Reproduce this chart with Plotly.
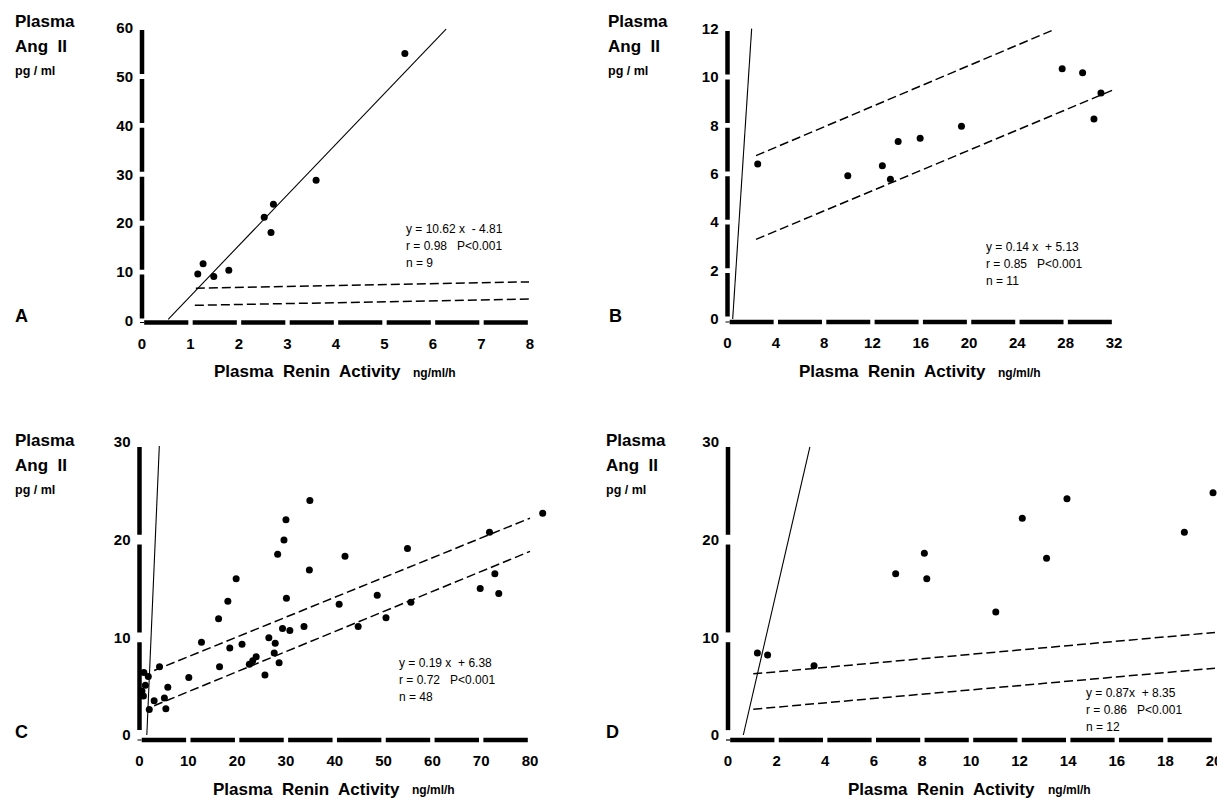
import plotly.graph_objects as go

W, H = 1225, 802          # browser window
OFF = 8                   # default page (body) margin of the html page
FW, FH = W - OFF, H - OFF # figure size so that it ends at the window edge

# ---------------- data ----------------
A_x = [1.15, 1.26, 1.48, 1.79, 2.52, 2.66, 2.71, 3.59, 5.42]
A_y = [9.6, 11.7, 9.1, 10.4, 21.2, 18.1, 23.9, 28.8, 54.7]
A_fit_x = [0.54, 6.27]
A_fit_y = [0.35, 59.7]
A_up_x = [1.11, 7.98]
A_up_y = [6.7, 8.0]
A_lo_x = [1.09, 7.98]
A_lo_y = [3.2, 4.5]
A_xticks = [0, 1, 2, 3, 4, 5, 6, 7, 8]
A_yticks = [0, 10, 20, 30, 40, 50, 60]
A_text = ["y = 10.62 x  - 4.81", "r = 0.98   P<0.001", "n = 9"]

B_x = [2.50, 9.96, 12.82, 13.49, 14.13, 15.95, 19.37, 27.71, 29.40, 30.92, 30.34]
B_y = [6.40, 5.92, 6.33, 5.77, 7.33, 7.47, 7.96, 10.34, 10.18, 9.34, 8.26]
B_fit_x = [0.43, 2.0]
B_fit_y = [0.0, 12.0]
B_up_x = [2.36, 27.13]
B_up_y = [6.75, 11.98]
B_lo_x = [2.36, 31.9]
B_lo_y = [3.29, 9.46]
B_xticks = [0, 4, 8, 12, 16, 20, 24, 28, 32]
B_yticks = [0, 2, 4, 6, 8, 10, 12]
B_text = ["y = 0.14 x  + 5.13", "r = 0.85   P<0.001", "n = 11"]

C_x = [34.9, 30.0, 29.6, 28.3, 19.8, 18.1, 16.2, 34.8, 42.1, 54.9, 30.1, 40.9,
       48.7, 55.6, 44.8, 50.5, 33.7, 29.3, 30.8, 26.5, 27.8, 21.0, 18.5, 12.7,
       27.6, 28.6, 25.7, 23.9, 22.5, 23.2, 16.4, 10.1, 4.1, 5.8, 5.1, 5.4,
       3.0, 2.0, 1.8, 0.9, 1.2, 0.5, 0.8, 82.6, 71.7, 72.8, 69.8, 73.6]
C_y = [24.0, 22.05, 19.97, 18.5, 16.0, 13.7, 11.9, 16.9, 18.3, 19.1, 14.0, 13.4,
       14.3, 13.6, 11.1, 12.0, 11.1, 10.9, 10.7, 9.95, 9.4, 9.3, 8.9, 9.5,
       8.4, 7.4, 6.15, 8.0, 7.25, 7.6, 7.0, 5.9, 7.0, 4.9, 3.8, 2.7,
       3.5, 2.6, 6.0, 6.4, 5.1, 4.5, 4.0, 22.7, 20.75, 16.5, 15.0, 14.5]
C_fit_x = [1.5, 4.06]
C_fit_y = [0.0, 29.6]
C_up_x = [3.0, 80.0]
C_up_y = [6.6, 22.2]
C_lo_x = [3.0, 80.0]
C_lo_y = [3.0, 18.8]
C_xticks = [0, 10, 20, 30, 40, 50, 60, 70, 80]
C_yticks = [0, 10, 20, 30]
C_text = ["y = 0.19 x  + 6.38", "r = 0.72   P<0.001", "n = 48"]

D_x = [1.21, 1.63, 3.54, 6.9, 8.08, 8.18, 11.02, 12.11, 13.95, 13.11, 18.78, 19.96]
D_y = [8.4, 8.2, 7.1, 16.5, 18.6, 16.0, 12.6, 22.2, 24.2, 18.1, 20.75, 24.8]
D_fit_x = [0.63, 3.37]
D_fit_y = [0.0, 29.5]
D_up_x = [1.04, 20.04]
D_up_y = [6.26, 10.5]
D_lo_x = [1.04, 20.04]
D_lo_y = [2.64, 6.84]
D_xticks = [0, 2, 4, 6, 8, 10, 12, 14, 16, 18, 20]
D_yticks = [0, 10, 20, 30]
D_text = ["y = 0.87x  + 8.35", "r = 0.86   P<0.001", "n = 12"]

# ---------------- layout geometry (window pixels) ----------------
panels = [
    dict(name="A", x=A_x, y=A_y, fx=A_fit_x, fy=A_fit_y, ux=A_up_x, uy=A_up_y,
         lx=A_lo_x, ly=A_lo_y, xt=A_xticks, yt=A_yticks, txt=A_text,
         px0=142, px1=530, py0=321, py1=27.6, axoff=1.5,
         letter=(13, 316), ytitle=(13, 21.7), xtitle_c=307, xtitle_y=371.5,
         eq=(404, 229)),
    dict(name="B", x=B_x, y=B_y, fx=B_fit_x, fy=B_fit_y, ux=B_up_x, uy=B_up_y,
         lx=B_lo_x, ly=B_lo_y, xt=B_xticks, yt=B_yticks, txt=B_text,
         px0=727.5, px1=1114, py0=319, py1=28.6, axoff=3,
         letter=(607, 316), ytitle=(606, 21.7), xtitle_c=892, xtitle_y=371.5,
         eq=(984, 247)),
    dict(name="C", x=C_x, y=C_y, fx=C_fit_x, fy=C_fit_y, ux=C_up_x, uy=C_up_y,
         lx=C_lo_x, ly=C_lo_y, xt=C_xticks, yt=C_yticks, txt=C_text,
         px0=139.5, px1=530, py0=735, py1=442, axoff=5,
         letter=(13, 732), ytitle=(13, 440.7), xtitle_c=306, xtitle_y=789,
         eq=(397, 663)),
    dict(name="D", x=D_x, y=D_y, fx=D_fit_x, fy=D_fit_y, ux=D_up_x, uy=D_up_y,
         lx=D_lo_x, ly=D_lo_y, xt=D_xticks, yt=D_yticks, txt=D_text,
         px0=728, px1=1214, py0=735, py1=442, axoff=5,
         letter=(604, 732), ytitle=(604, 440.7), xtitle_c=942, xtitle_y=789,
         eq=(1084, 693)),
]

FONT = "Liberation Sans, Arial, sans-serif"
PAD = 8  # pixels of padding around the axis box

fig = go.Figure()
layout = dict(width=FW, height=FH, margin=dict(l=0, r=0, t=0, b=0),
              paper_bgcolor="white", plot_bgcolor="white", showlegend=False)
shapes = []
annotations = []


def px2fx(px):
    return min(max((px - OFF) / FW, 0.0), 1.0)


def py2fy(py):
    return min(max(1 - (py - OFF) / FH, 0.0), 1.0)


for i, p in enumerate(panels):
    idx = "" if i == 0 else str(i + 1)
    xa, ya = "x" + idx, "y" + idx
    xmax, ymax = p["xt"][-1], p["yt"][-1]
    sx = (p["px1"] - p["px0"]) / xmax
    sy = (p["py0"] - p["py1"]) / ymax
    rpad = min(2.5 * PAD, W - p["px1"] - 0.5)
    xr = [-PAD / sx, xmax + rpad / sx]
    yr = [-(PAD + p["axoff"]) / sy, ymax + PAD / sy]
    xdom = [px2fx(p["px0"] - PAD), px2fx(p["px1"] + rpad)]
    ydom = [py2fy(p["py0"] + PAD + p["axoff"]), py2fy(p["py1"] - PAD)]

    layout["xaxis" + idx] = dict(
        domain=xdom, range=xr, anchor=ya, showgrid=False, zeroline=False,
        showline=False, ticks="", tickvals=p["xt"], ticktext=[str(t) for t in p["xt"]],
        tickfont=dict(family=FONT, size=15, color="black", weight="bold"),
        ticklabelstandoff=2, ticklabeloverflow="allow", fixedrange=True)
    layout["yaxis" + idx] = dict(
        domain=ydom, range=yr, anchor=xa, showgrid=False, zeroline=False,
        showline=False, ticks="", tickvals=p["yt"], ticktext=[str(t) for t in p["yt"]],
        tickfont=dict(family=FONT, size=15, color="black", weight="bold"),
        ticklabelstandoff=0, fixedrange=True)

    # points
    fig.add_trace(go.Scatter(x=p["x"], y=p["y"], mode="markers", xaxis=xa, yaxis=ya,
                             marker=dict(size=7, color="black"), cliponaxis=False))
    # solid line
    fig.add_trace(go.Scatter(x=p["fx"], y=p["fy"], mode="lines", xaxis=xa, yaxis=ya,
                             line=dict(color="black", width=1.1)))
    # dashed lines
    for lx, ly in ((p["ux"], p["uy"]), (p["lx"], p["ly"])):
        fig.add_trace(go.Scatter(x=lx, y=ly, mode="lines", xaxis=xa, yaxis=ya,
                                 line=dict(color="black", width=1.5, dash="9px,4px")))

    # segmented thick axes
    y_axis_pos = -p["axoff"] / sy
    xt, yt = p["xt"], p["yt"]
    for a, b in zip(xt[:-1], xt[1:]):
        g = 0.045 * (b - a)
        shapes.append(dict(type="line", xref=xa, yref=ya, x0=a + g, x1=b - g,
                           y0=y_axis_pos, y1=y_axis_pos,
                           line=dict(color="black", width=4.5)))
    for a, b in zip(yt[:-1], yt[1:]):
        g = 0.05 * (b - a)
        shapes.append(dict(type="line", xref=xa, yref=ya, x0=0, x1=0,
                           y0=a + g, y1=b - g, line=dict(color="black", width=4.5)))
    shapes.append(dict(type="line", xref=xa, yref=ya, x0=0, x1=0,
                       y0=y_axis_pos - 0.6 / sy, y1=y_axis_pos + 0.6 / sy,
                       line=dict(color="black", width=4)))

    # panel letter
    lx, ly = p["letter"]
    annotations.append(dict(text=p["name"], x=px2fx(lx), y=py2fy(ly), xref="paper", yref="paper",
                            xanchor="left", yanchor="middle", showarrow=False,
                            font=dict(family=FONT, size=18, color="black", weight="bold")))
    # y title
    tx, ty = p["ytitle"]
    annotations.append(dict(text="Plasma", x=px2fx(tx), y=py2fy(ty), xref="paper", yref="paper",
                            xanchor="left", yanchor="middle", showarrow=False,
                            font=dict(family=FONT, size=17, color="black", weight="bold")))
    annotations.append(dict(text="Ang  II", x=px2fx(tx), y=py2fy(ty + 25), xref="paper", yref="paper",
                            xanchor="left", yanchor="middle", showarrow=False,
                            font=dict(family=FONT, size=17, color="black", weight="bold")))
    annotations.append(dict(text="pg / ml", x=px2fx(tx), y=py2fy(ty + 49), xref="paper", yref="paper",
                            xanchor="left", yanchor="middle", showarrow=False,
                            font=dict(family=FONT, size=12.5, color="black", weight="bold")))
    # x title
    cx, cy = p["xtitle_c"], p["xtitle_y"]
    annotations.append(dict(text="Plasma  Renin  Activity", x=px2fx(cx), y=py2fy(cy),
                            xref="paper", yref="paper", xanchor="center", yanchor="middle",
                            showarrow=False,
                            font=dict(family=FONT, size=17, color="black", weight="bold")))
    annotations.append(dict(text="ng/ml/h", x=px2fx(cx + 104), y=py2fy(cy + 1),
                            xref="paper", yref="paper", xanchor="left", yanchor="middle",
                            showarrow=False,
                            font=dict(family=FONT, size=12, color="black", weight="bold")))
    # equation text
    ex, ey = p["eq"]
    for k, line in enumerate(p["txt"]):
        annotations.append(dict(text=line, x=px2fx(ex), y=py2fy(ey + 17 * k),
                                xref="paper", yref="paper", xanchor="left", yanchor="middle",
                                showarrow=False,
                                font=dict(family=FONT, size=12, color="black")))

layout["shapes"] = shapes
layout["annotations"] = annotations
fig.update_layout(**layout)
fig.write_html("out.html")
